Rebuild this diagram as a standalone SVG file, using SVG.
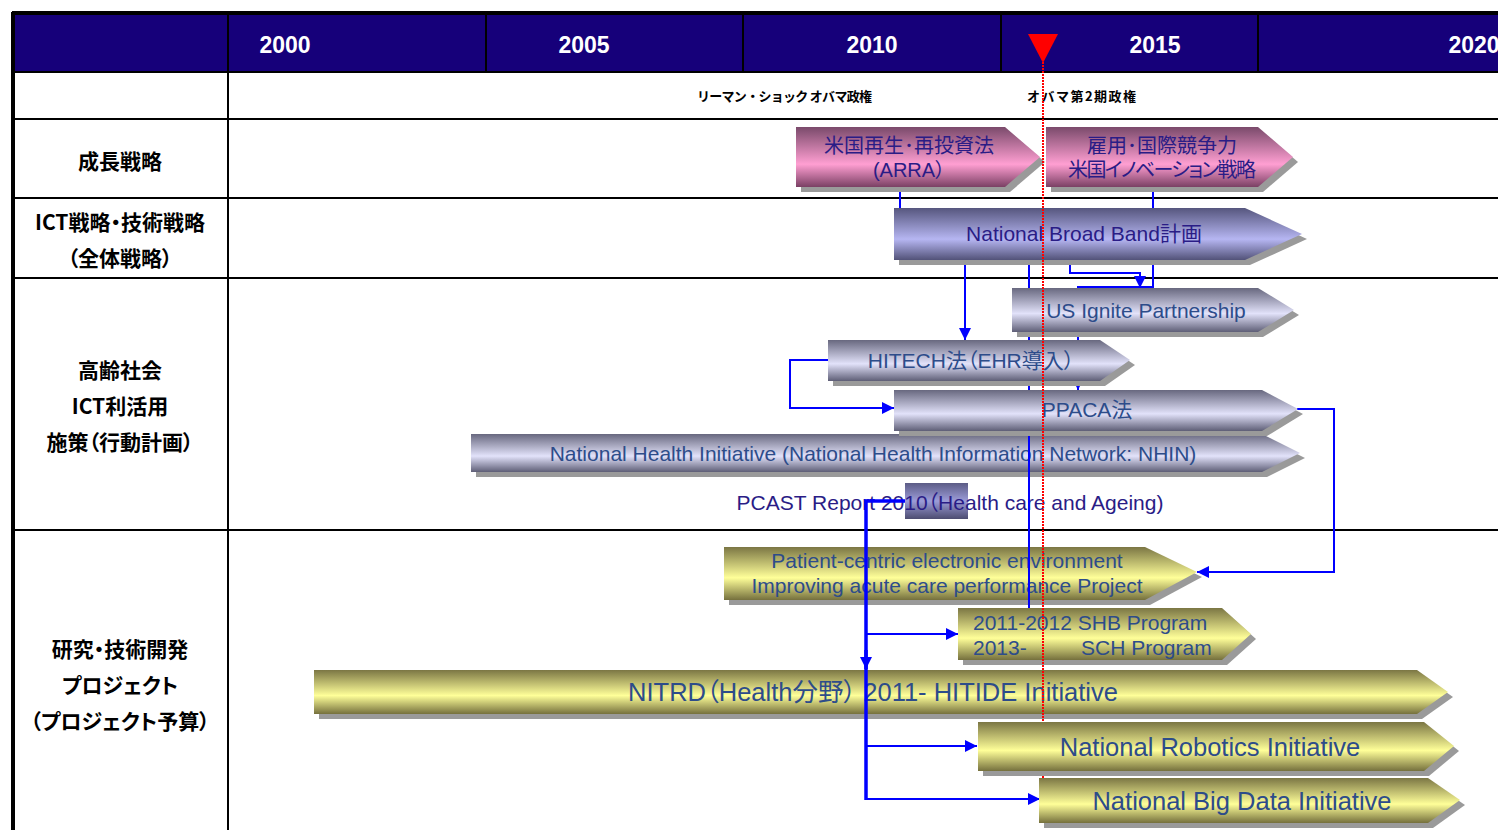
<svg xmlns="http://www.w3.org/2000/svg" width="1498" height="830" viewBox="0 0 1498 830">
<defs>
<linearGradient id="gPink" x1="0" y1="0" x2="0" y2="1">
<stop offset="0" stop-color="#7a4a6b"/><stop offset="0.62" stop-color="#ff9fd2"/><stop offset="1" stop-color="#7a4064"/>
</linearGradient>
<linearGradient id="gBlue" x1="0" y1="0" x2="0" y2="1">
<stop offset="0" stop-color="#56567e"/><stop offset="0.6" stop-color="#b6b6f2"/><stop offset="1" stop-color="#525278"/>
</linearGradient>
<linearGradient id="gGrey" x1="0" y1="0" x2="0" y2="1">
<stop offset="0" stop-color="#68687f"/><stop offset="0.58" stop-color="#e2e2fa"/><stop offset="1" stop-color="#5e5e76"/>
</linearGradient>
<linearGradient id="gYel" x1="0" y1="0" x2="0" y2="1">
<stop offset="0" stop-color="#7b7644"/><stop offset="0.58" stop-color="#ffff99"/><stop offset="1" stop-color="#75703d"/>
</linearGradient>
<linearGradient id="gBox" x1="0" y1="0" x2="0" y2="1">
<stop offset="0" stop-color="#5c5c86"/><stop offset="0.5" stop-color="#9c9cd8"/><stop offset="1" stop-color="#4c4c70"/>
</linearGradient>
<marker id="ah" viewBox="0 0 10 10" refX="10" refY="5" markerWidth="12" markerHeight="12" markerUnits="userSpaceOnUse" orient="auto">
<path d="M0,0 L10,5 L0,10 Z" fill="#0000ff"/>
</marker>
<marker id="ahs" viewBox="0 0 10 10" refX="10" refY="5" markerWidth="7" markerHeight="7" markerUnits="userSpaceOnUse" orient="auto">
<path d="M0,0 L10,5 L0,10 Z" fill="#0000ff"/>
</marker>
</defs>
<style>
.grid{stroke:#000;stroke-width:2;fill:none}
.yr{font-family:"Liberation Sans",Arial,sans-serif;font-size:23px;font-weight:bold;fill:#fff;text-anchor:middle}
.rowlbl{font-family:"Noto Sans CJK JP","Liberation Sans",sans-serif;font-size:21px;font-weight:bold;fill:#000;text-anchor:middle;font-feature-settings:"palt"}
.evt{font-family:"Noto Sans CJK JP","Liberation Sans",sans-serif;font-size:13px;font-weight:bold;fill:#000}
.sh{fill:#9a9a9a}
.t{font-family:"Liberation Sans",Arial,"Noto Sans CJK JP",sans-serif;font-size:21px;text-anchor:middle;font-feature-settings:"palt"}
.st{text-anchor:start}
.big{font-size:25.5px}
.jp{font-size:20px}
.navy{fill:#2a1c86}
.steel{fill:#2d4c8a}
.con{fill:none;stroke:#0000ff;stroke-width:2}
.thick{fill:none;stroke:#0000ff;stroke-width:3.5}
</style>
<rect x="0" y="0" width="1498" height="830" fill="#fff"/>
<g id="table">
<rect x="12" y="12" width="1486" height="60" fill="#16007a"/>
<line x1="12" y1="13" x2="1498" y2="13" stroke="#000" stroke-width="4"/>
<line x1="13" y1="12" x2="13" y2="830" stroke="#000" stroke-width="4"/>
<line class="grid" x1="12" y1="72" x2="1498" y2="72"/>
<line class="grid" x1="12" y1="119" x2="1498" y2="119"/>
<line class="grid" x1="12" y1="198" x2="1498" y2="198"/>
<line class="grid" x1="12" y1="278" x2="1498" y2="278"/>
<line class="grid" x1="12" y1="530" x2="1498" y2="530"/>
<line class="grid" x1="228" y1="12" x2="228" y2="830"/>
<line class="grid" x1="486" y1="12" x2="486" y2="72"/>
<line class="grid" x1="743" y1="12" x2="743" y2="72"/>
<line class="grid" x1="1001" y1="12" x2="1001" y2="72"/>
<line class="grid" x1="1258" y1="12" x2="1258" y2="72"/>
<text class="yr" x="285" y="53">2000</text>
<text class="yr" x="584" y="53">2005</text>
<text class="yr" x="872" y="53">2010</text>
<text class="yr" x="1155" y="53">2015</text>
<text class="yr" x="1474" y="53">2020</text>
<text class="evt" x="697" y="101" textLength="175">リーマン・ショック オバマ政権</text>
<text class="evt" x="1027" y="101" textLength="109">オバマ第2期政権</text>
<text class="rowlbl" x="120" y="169">成長戦略</text>
<text class="rowlbl" x="120" y="230">ICT戦略・技術戦略</text>
<text class="rowlbl" x="120" y="266">（全体戦略）</text>
<text class="rowlbl" x="120" y="378">高齢社会</text>
<text class="rowlbl" x="120" y="414">ICT利活用</text>
<text class="rowlbl" x="120" y="450">施策（行動計画）</text>
<text class="rowlbl" x="120" y="657">研究・技術開発</text>
<text class="rowlbl" x="120" y="693">プロジェクト</text>
<text class="rowlbl" x="120" y="729">（プロジェクト予算）</text>
</g>
<g id="nhi">
<path class="sh" d="M476,439 H1267 L1305,458 L1267,477 H476 Z"/>
<path fill="url(#gGrey)" d="M471,434 H1262 L1300,453 L1262,472 H471 Z"/>
<text class="t steel" x="873" y="461">National Health Initiative (National Health Information Network: NHIN)</text>
</g>
<g id="pcast">
<rect x="905" y="483" width="63" height="36" fill="url(#gBox)"/>
<text class="t navy" x="950" y="510">PCAST Report  2010（Health care and Ageing)</text>
</g>
<g id="patient">
<path class="sh" d="M729,552 H1150 L1202,577 L1150,605 H729 Z"/>
<path fill="url(#gYel)" d="M724,547 H1145 L1197,572 L1145,600 H724 Z"/>
<text class="t steel" x="947" y="568">Patient-centric electronic environment</text>
<text class="t steel" x="947" y="593">Improving acute care performance Project</text>
</g>
<g id="shb">
<path class="sh" d="M963,613 H1227 L1256,639 L1227,665 H963 Z"/>
<path fill="url(#gYel)" d="M958,608 H1222 L1251,634 L1222,660 H958 Z"/>
<text class="t st steel" x="973" y="630">2011-2012 SHB Program</text>
<text class="t st steel" x="973" y="655">2013-</text>
<text class="t st steel" x="1081" y="655">SCH Program</text>
</g>
<g id="nitrd">
<path class="sh" d="M319,675 H1422 L1453,697 L1422,719 H319 Z"/>
<path fill="url(#gYel)" d="M314,670 H1417 L1448,692 L1417,714 H314 Z"/>
<text class="t big steel" x="873" y="701">NITRD（Health分野） 2011- HITIDE Initiative</text>
</g>
<g id="connectors">
<path class="con" d="M900,187 V208"/>
<path class="con" d="M1153,187 V287 H1078 V390" marker-end="url(#ahs)"/>
<path class="con" d="M900,263 H965 V340" marker-end="url(#ah)"/>
<path class="con" d="M1070,263 V273 H1140 V288" marker-end="url(#ah)"/>
<path class="con" d="M1029,263 V608"/>
<path class="con" d="M1297,409 H1334 V572 H1197" marker-end="url(#ah)"/>
<path class="con" d="M828,360 H790 V408 H894" marker-end="url(#ah)"/>
<path class="thick" d="M905,501 H866 V800"/>
<path class="thick" d="M866,650 V669" marker-end="url(#ah)"/>
<path class="con" d="M866,634 H958" marker-end="url(#ah)"/>
<path class="con" d="M866,746 H977" marker-end="url(#ah)"/>
<path class="con" d="M866,799 H1040" marker-end="url(#ah)"/>
</g>
<g id="arra">
<path class="sh" d="M801,132 H1010 L1045,162 L1010,192 H801 Z"/>
<path fill="url(#gPink)" d="M796,127 H1005 L1040,157 L1005,187 H796 Z"/>
<text class="t jp navy" x="909" y="153">米国再生･再投資法</text>
<text class="t jp navy" x="909" y="177">(ARRA）</text>
</g>
<g id="koyou">
<path class="sh" d="M1051,132 H1263 L1298,162 L1263,192 H1051 Z"/>
<path fill="url(#gPink)" d="M1046,127 H1258 L1293,157 L1258,187 H1046 Z"/>
<text class="t jp navy" x="1162" y="153">雇用･国際競争力</text>
<text class="t jp navy" x="1162" y="177" textLength="188">米国イノベーション戦略</text>
</g>
<g id="nbb">
<path class="sh" d="M899,213 H1250 L1307,239 L1250,265 H899 Z"/>
<path fill="url(#gBlue)" d="M894,208 H1245 L1302,234 L1245,260 H894 Z"/>
<text class="t navy" x="1084" y="241">National Broad Band計画</text>
</g>
<g id="usignite">
<path class="sh" d="M1017,293 H1263 L1299,315 L1263,337 H1017 Z"/>
<path fill="url(#gGrey)" d="M1012,288 H1258 L1294,310 L1258,332 H1012 Z"/>
<text class="t steel" x="1146" y="318">US Ignite Partnership</text>
</g>
<g id="hitech">
<path class="sh" d="M833,345 H1105 L1135,365 L1105,386 H833 Z"/>
<path fill="url(#gGrey)" d="M828,340 H1100 L1130,360 L1100,381 H828 Z"/>
<text class="t steel" x="971" y="368">HITECH法（EHR導入）</text>
</g>
<g id="ppaca">
<path class="sh" d="M899,395 H1267 L1303,414 L1267,436 H899 Z"/>
<path fill="url(#gGrey)" d="M894,390 H1262 L1298,409 L1262,431 H894 Z"/>
<text class="t steel" x="1087" y="417">PPACA法</text>
</g>
<g id="now-marker">
<path d="M1028,34 L1058,34 L1043,63 Z" fill="#ff0000"/>
<line x1="1043" y1="62" x2="1043" y2="792" stroke="#ff0000" stroke-width="2" stroke-dasharray="2,1"/>
</g>
<g id="robotics">
<path class="sh" d="M983,727 H1429 L1459,751 L1429,776 H983 Z"/>
<path fill="url(#gYel)" d="M978,722 H1424 L1454,746 L1424,771 H978 Z"/>
<text class="t big steel" x="1210" y="756">National Robotics Initiative</text>
</g>
<g id="bigdata">
<path class="sh" d="M1044,783 H1433 L1465,805 L1433,828 H1044 Z"/>
<path fill="url(#gYel)" d="M1039,778 H1428 L1460,800 L1428,823 H1039 Z"/>
<text class="t big steel" x="1242" y="810">National Big Data Initiative</text>
</g>
</svg>
